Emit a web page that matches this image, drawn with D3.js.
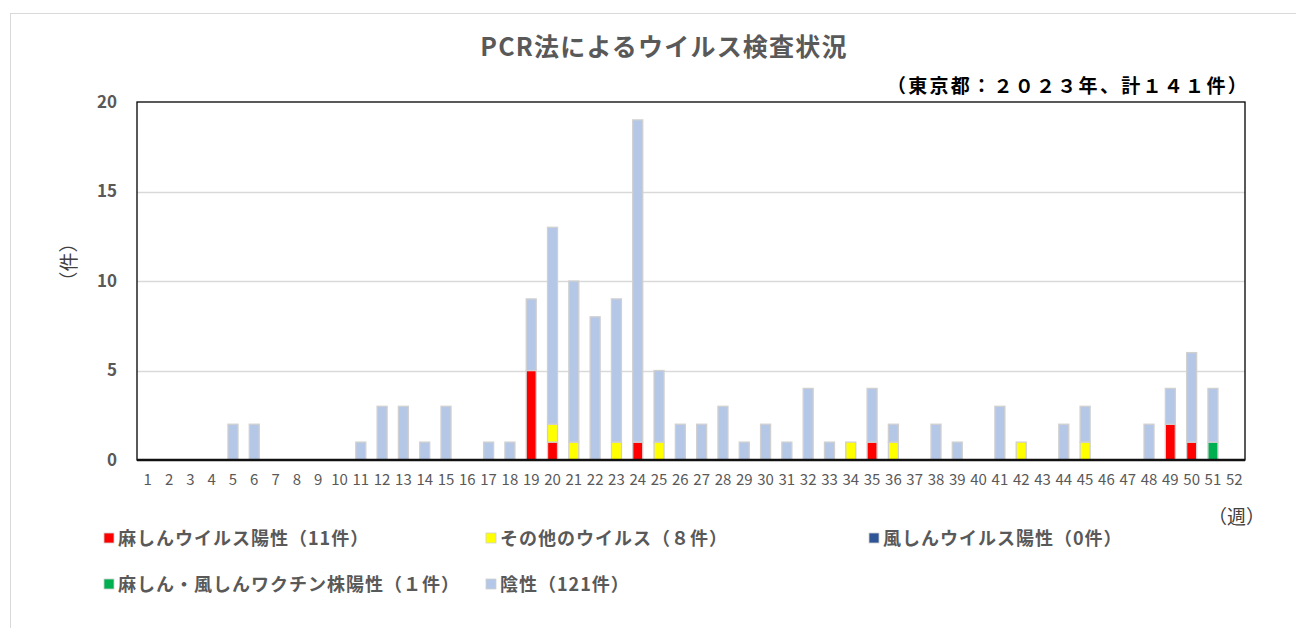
<!DOCTYPE html>
<html>
<head>
<meta charset="utf-8">
<title>PCR法によるウイルス検査状況</title>
<script src="https://d3js.org/d3.v7.min.js"></script>
<style>
  body { margin: 0; background: #fff; }
  svg text { font-family: "Noto Sans CJK JP", "Noto Sans", sans-serif; }
</style>
</head>
<body>
<div id="chart"></div>
<script>
const width = 1296;
const height = 628;

// weeks 1..52
const weeks = d3.range(1, 53).map(String);

// counts per week for each series
const measles  = [0,0,0,0,0,0,0,0,0,0, 0,0,0,0,0,0,0,0,5,1, 0,0,0,1,0,0,0,0,0,0, 0,0,0,0,1,0,0,0,0,0, 0,0,0,0,0,0,0,0,2,1, 0,0];
const other    = [0,0,0,0,0,0,0,0,0,0, 0,0,0,0,0,0,0,0,0,1, 1,0,1,0,1,0,0,0,0,0, 0,0,0,1,0,1,0,0,0,0, 0,1,0,0,1,0,0,0,0,0, 0,0];
const rubella  = [0,0,0,0,0,0,0,0,0,0, 0,0,0,0,0,0,0,0,0,0, 0,0,0,0,0,0,0,0,0,0, 0,0,0,0,0,0,0,0,0,0, 0,0,0,0,0,0,0,0,0,0, 0,0];
const vaccine  = [0,0,0,0,0,0,0,0,0,0, 0,0,0,0,0,0,0,0,0,0, 0,0,0,0,0,0,0,0,0,0, 0,0,0,0,0,0,0,0,0,0, 0,0,0,0,0,0,0,0,0,0, 1,0];
const negative = [0,0,0,0,2,2,0,0,0,0, 1,3,3,1,3,0,1,1,4,11, 9,8,8,18,4,2,2,3,1,2, 1,4,1,0,3,1,0,2,1,0, 3,0,0,2,2,0,0,2,2,5, 3,0];

const seriesKeys   = ["measles", "other", "rubella", "vaccine", "negative"];
const seriesColors = ["#FF0000", "#FFFF00", "#2F5597", "#00B050", "#B4C7E7"];
const legendLabels = ["麻しんウイルス陽性（11件）", "その他のウイルス（８件）", "風しんウイルス陽性（0件）",
                      "麻しん・風しんワクチン株陽性（１件）", "陰性（121件）"];
const yTicks = [0, 5, 10, 15, 20];

const rows = weeks.map((w, i) => ({
  week: w, measles: measles[i], other: other[i], rubella: rubella[i],
  vaccine: vaccine[i], negative: negative[i]
}));

const margin = {top: 102, right: 51, bottom: 168, left: 137};
const innerW = width - margin.left - margin.right;
const innerH = height - margin.top - margin.bottom;

const svg = d3.select("#chart").append("svg").attr("width", width).attr("height", height);

// outer chart frame
svg.append("rect").attr("x", 10.5).attr("y", 13.5).attr("width", width).attr("height", height)
  .attr("fill", "#fff").attr("stroke", "#d9d9d9");

const x = d3.scaleBand().domain(weeks).range([0, innerW]).paddingInner(0.53).paddingOuter(0.27);
const y = d3.scaleLinear().domain([0, 20]).range([innerH, 0]);
const color = d3.scaleOrdinal().domain(seriesKeys).range(seriesColors);

const g = svg.append("g").attr("transform", `translate(${margin.left},${margin.top})`);

// gridlines
g.append("g").selectAll("line").data(yTicks.slice(1, -1)).join("line")
  .attr("x1", 0).attr("x2", innerW)
  .attr("y1", d => Math.round(y(d)) + 0.5).attr("y2", d => Math.round(y(d)) + 0.5)
  .attr("stroke", "#d9d9d9").attr("stroke-width", 1.3);

const stacked = d3.stack().keys(seriesKeys)(rows);

g.append("g").selectAll("g").data(stacked).join("g")
  .attr("fill", d => color(d.key))
  .selectAll("rect").data(d => d.filter(p => p[1] - p[0] > 0)).join("rect")
  .attr("x", d => x(d.data.week))
  .attr("width", x.bandwidth())
  .attr("y", d => y(d[1]))
  .attr("height", d => y(d[0]) - y(d[1]))
  .attr("stroke", "#d0d0d0").attr("stroke-width", 1.3);

// plot frame
g.append("rect").attr("x", 0).attr("y", 0).attr("width", innerW).attr("height", innerH)
  .attr("fill", "none").attr("stroke", "#000").attr("stroke-width", 1.3);
g.append("line").attr("x1", 0).attr("x2", innerW).attr("y1", innerH).attr("y2", innerH)
  .attr("stroke", "#111").attr("stroke-width", 2.5);

// y axis labels
const yAxis = g.append("g").call(d3.axisLeft(y).tickValues(yTicks).tickSize(0).tickPadding(20));
yAxis.select(".domain").remove();
yAxis.selectAll("text").attr("font-size", 17).attr("font-weight", "bold").attr("fill", "#595959")
  .attr("font-family", "'Noto Sans CJK JP', sans-serif");

// x axis labels
const xAxis = g.append("g").attr("transform", `translate(0,${innerH})`)
  .call(d3.axisBottom(x).tickSize(0).tickPadding(14));
xAxis.select(".domain").remove();
xAxis.selectAll("text").attr("font-size", 15).attr("fill", "#595959")
  .attr("font-family", "'Noto Sans CJK JP', sans-serif");

// titles
svg.append("text").attr("x", 664).attr("y", 56).attr("text-anchor", "middle")
  .attr("font-size", 25).attr("font-weight", "bold").attr("fill", "#595959")
  .attr("letter-spacing", 1.2).text("PCR法によるウイルス検査状況");
svg.append("text").attr("x", 1249).attr("y", 93).attr("text-anchor", "end")
  .attr("font-size", 19).attr("font-weight", "bold").attr("fill", "#000")
  .attr("letter-spacing", 2.3).text("（東京都：２０２３年、計１４１件）");
svg.append("text").attr("transform", "translate(76,262) rotate(-90)").attr("text-anchor", "middle")
  .attr("font-size", 19).attr("fill", "#404040").text("（件）");
svg.append("text").attr("x", 1265).attr("y", 524).attr("text-anchor", "end")
  .attr("font-size", 19).attr("fill", "#404040").text("（週）");

// legend
const legendPos = [[104, 538], [486, 538], [869, 538], [104, 584], [486, 584]];
const legend = svg.append("g").selectAll("g").data(seriesKeys).join("g")
  .attr("transform", (d, i) => `translate(${legendPos[i][0]},${legendPos[i][1]})`);
legend.append("rect").attr("x", 0).attr("y", -5).attr("width", 10).attr("height", 10)
  .attr("fill", d => color(d)).attr("stroke", "#d0d0d0").attr("stroke-width", 0.8);
legend.append("text").attr("x", 14).attr("y", 7)
  .attr("font-size", 18).attr("font-weight", "bold").attr("fill", "#595959")
  .attr("letter-spacing", 1).text((d, i) => legendLabels[i]);
</script>
</body>
</html>
